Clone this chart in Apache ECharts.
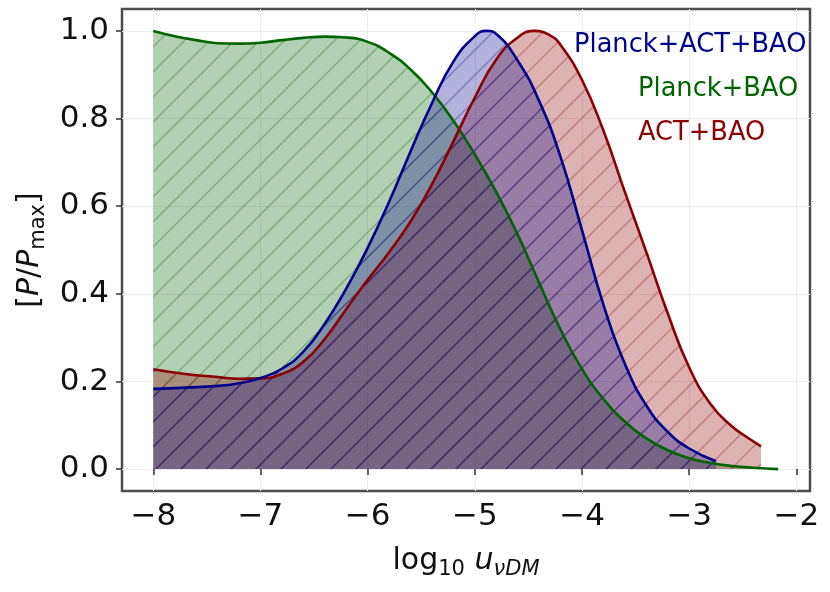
<!DOCTYPE html>
<html>
<head>
<meta charset="utf-8">
<script src="https://cdn.jsdelivr.net/npm/echarts@6/dist/echarts.min.js"></script>
<style>
html, body { margin: 0; padding: 0; background: #fff; }
#main { width: 830px; height: 592px; }
</style>
</head>
<body>
<div id="main"></div>
<script>
// posterior curves (x = log10 u, y = P/Pmax)
var greenX = [-8.0, -7.8, -7.6, -7.4, -7.2, -7.0, -6.8, -6.6, -6.4, -6.2, -6.0, -5.8, -5.6, -5.4, -5.2, -5.0, -4.8, -4.6, -4.4, -4.2, -4.0, -3.8, -3.6, -3.4, -3.2, -3.0, -2.8, -2.6, -2.4, -2.17];
var greenY = [1.0, 0.988, 0.979, 0.972, 0.971, 0.973, 0.979, 0.984, 0.987, 0.985, 0.975, 0.950, 0.912, 0.860, 0.795, 0.718, 0.632, 0.535, 0.425, 0.318, 0.228, 0.160, 0.108, 0.070, 0.043, 0.025, 0.014, 0.007, 0.003, 0.0];

var blueX = [-8.0, -7.7, -7.4, -7.2, -7.0, -6.8, -6.6, -6.4, -6.2, -6.0, -5.8, -5.6, -5.4, -5.2, -5.0, -4.89, -4.8, -4.6, -4.4, -4.2, -4.0, -3.8, -3.6, -3.4, -3.2, -3.0, -2.75];
var blueY = [0.183, 0.186, 0.190, 0.196, 0.208, 0.229, 0.268, 0.332, 0.412, 0.505, 0.610, 0.725, 0.835, 0.930, 0.988, 1.0, 0.993, 0.932, 0.840, 0.712, 0.545, 0.375, 0.240, 0.145, 0.085, 0.047, 0.018];

var redX = [-8.0, -7.7, -7.4, -7.2, -7.0, -6.8, -6.6, -6.4, -6.2, -6.0, -5.8, -5.6, -5.4, -5.2, -5.0, -4.8, -4.6, -4.44, -4.3, -4.2, -4.0, -3.8, -3.6, -3.4, -3.2, -3.0, -2.8, -2.6, -2.45, -2.33];
var redY = [0.228, 0.217, 0.210, 0.206, 0.207, 0.217, 0.245, 0.297, 0.365, 0.432, 0.495, 0.565, 0.650, 0.748, 0.848, 0.935, 0.985, 1.0, 0.99, 0.968, 0.888, 0.772, 0.632, 0.495, 0.355, 0.232, 0.148, 0.097, 0.071, 0.052];

var xTicks = [-8, -7, -6, -5, -4, -3, -2];
var yTicks = [0, 0.2, 0.4, 0.6, 0.8, 1.0];
var labels = ['Planck+ACT+BAO', 'Planck+BAO', 'ACT+BAO'];

var FONT = '"DejaVu Sans", sans-serif';

function zip(xs, ys) {
    return xs.map(function (x, i) { return [x, ys[i]]; });
}

// translucent fill with '/' hatching, same tile origin for every series
function hatch(rgb) {
    var s = 25;
    var c = document.createElement('canvas');
    c.width = s; c.height = s;
    var ctx = c.getContext('2d');
    ctx.fillStyle = 'rgba(' + rgb + ',0.3)';
    ctx.fillRect(0, 0, s, s);
    ctx.strokeStyle = 'rgba(' + rgb + ',0.3)';
    ctx.lineWidth = 1.5;
    ctx.beginPath();
    ctx.moveTo(-s, s); ctx.lineTo(s, -s);
    ctx.moveTo(-1, s + 1); ctx.lineTo(s + 1, -1);
    ctx.moveTo(0, 2 * s); ctx.lineTo(2 * s, 0);
    ctx.stroke();
    return { image: c, repeat: 'repeat' };
}

function areaSeries(xs, ys, rgb) {
    return {
        type: 'line', data: zip(xs, ys), smooth: 0.5,
        symbol: 'none', silent: true, z: 1,
        lineStyle: { width: 0, opacity: 0 },
        areaStyle: { color: hatch(rgb), opacity: 1 }
    };
}

function lineSeries(xs, ys, color) {
    return {
        type: 'line', data: zip(xs, ys), smooth: 0.5,
        symbol: 'none', silent: true, z: 3,
        lineStyle: { color: color, width: 2.6 }
    };
}

var myChart = echarts.init(document.getElementById('main'));

var option = {
    animation: false,
    grid: {
        left: 122, right: 20, top: 9, bottom: 101,
        show: true, borderColor: '#4d4d4d', borderWidth: 2.5
    },
    xAxis: {
        type: 'value', min: -8.2918, max: -1.8733,
        axisLine: { show: false },
        axisTick: { show: true, length: 6, customValues: xTicks, lineStyle: { color: '#333', width: 1.5 } },
        axisLabel: {
            customValues: xTicks, margin: 10,
            fontSize: 31, fontFamily: FONT, color: '#111',
            formatter: function (v) { return (v < 0 ? '\u2212' : '') + Math.abs(v); }
        },
        splitLine: { show: true, lineStyle: { color: '#ececec', width: 1 } },
        name: 'log{s|10} {i|u}{si|\u03bdDM}',
        nameLocation: 'middle', nameGap: 70,
        nameTextStyle: {
            fontSize: 30, fontFamily: FONT, color: '#111', lineHeight: 38, verticalAlign: 'middle',
            rich: {
                s: { fontSize: 21, fontFamily: FONT, color: '#111', lineHeight: 21, verticalAlign: 'bottom' },
                i: { fontSize: 30, fontFamily: FONT, color: '#111', fontStyle: 'italic', lineHeight: 38, verticalAlign: 'middle' },
                si: { fontSize: 21, fontFamily: FONT, color: '#111', fontStyle: 'italic', lineHeight: 21, verticalAlign: 'bottom' }
            }
        }
    },
    yAxis: {
        type: 'value', min: -0.05, max: 1.05,
        axisLine: { show: false },
        axisTick: { show: true, length: 6, customValues: yTicks, lineStyle: { color: '#333', width: 1.5 } },
        axisLabel: {
            customValues: yTicks, margin: 13,
            fontSize: 31, fontFamily: FONT, color: '#111',
            formatter: function (v) { return v.toFixed(1); }
        },
        splitLine: { show: true, lineStyle: { color: '#ececec', width: 1 } },
        name: '[{i|P}/{i|P}{s|max}]',
        nameLocation: 'middle', nameGap: 78, nameRotate: 90,
        nameTextStyle: {
            fontSize: 30, fontFamily: FONT, color: '#111', lineHeight: 38, verticalAlign: 'middle',
            rich: {
                s: { fontSize: 21, fontFamily: FONT, color: '#111', lineHeight: 21, verticalAlign: 'bottom' },
                i: { fontSize: 30, fontFamily: FONT, color: '#111', fontStyle: 'italic', lineHeight: 38, verticalAlign: 'middle' }
            }
        }
    },
    graphic: [
        { type: 'text', left: 574, top: 32, z: 10,
          style: { text: labels[0], fill: '#00008b', font: '25.7px ' + FONT } },
        { type: 'text', left: 638, top: 76, z: 10,
          style: { text: labels[1], fill: '#006400', font: '25.7px ' + FONT } },
        { type: 'text', left: 638, top: 120, z: 10,
          style: { text: labels[2], fill: '#8b0000', font: '25.7px ' + FONT } }
    ],
    series: [
        areaSeries(greenX, greenY, '0,100,0'),
        areaSeries(redX, redY, '139,0,0'),
        areaSeries(blueX, blueY, '0,0,139'),
        lineSeries(greenX, greenY, '#006400'),
        lineSeries(redX, redY, '#8b0000'),
        lineSeries(blueX, blueY, '#00008b')
    ]
};

myChart.setOption(option);
</script>
</body>
</html>
